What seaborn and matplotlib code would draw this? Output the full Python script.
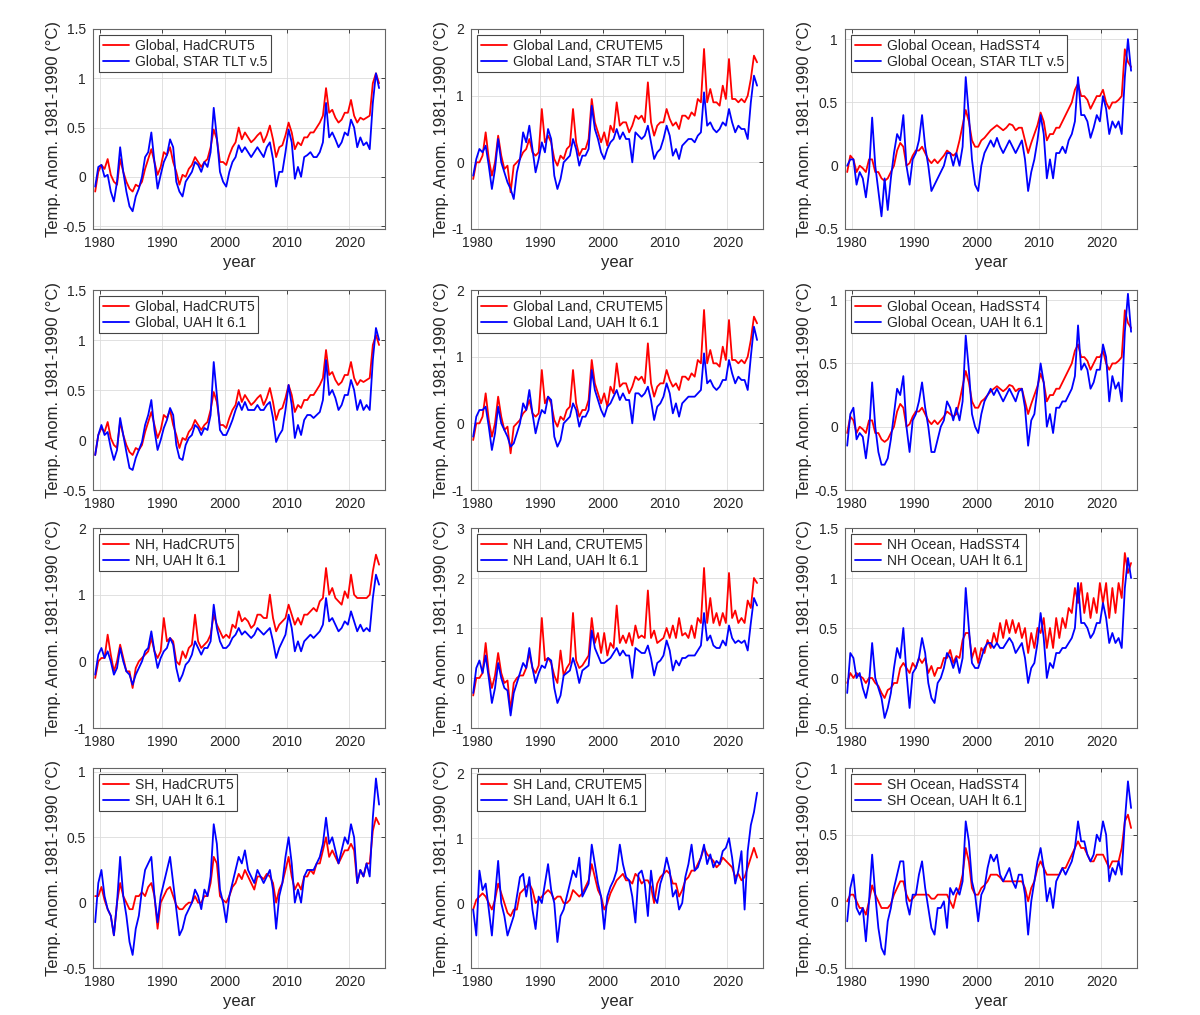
import numpy as np
import matplotlib
matplotlib.use("Agg")
import matplotlib.pyplot as plt
import seaborn as sns
from matplotlib.ticker import MultipleLocator, FuncFormatter

# Semi-annual samples.
# Anomalies relative to 1981-1990, deg C. Sample times: 1979.25, 1979.75, ... 2024.75
years = np.arange(1979.25, 2025.0, 0.5)

# --- surface records (red) ---
had_global = [
    -0.15, 0.05, 0.12, 0.08, 0.18, 0.02, -0.05, -0.08, 0.18, 0.05,
    -0.05, -0.12, -0.15, -0.08, -0.1, -0.05, 0.08, 0.18, 0.28, 0.15,
    0.02, 0.1, 0.25, 0.22, 0.3, 0.15, 0.05, -0.08, 0.02, 0.0,
    0.08, 0.12, 0.2, 0.15, 0.1, 0.15, 0.18, 0.3, 0.48, 0.38,
    0.15, 0.15, 0.12, 0.22, 0.3, 0.35, 0.5, 0.38, 0.45, 0.4,
    0.35, 0.38, 0.42, 0.45, 0.35, 0.42, 0.52, 0.38, 0.2, 0.3,
    0.32, 0.42, 0.55, 0.45, 0.28, 0.35, 0.32, 0.4, 0.4, 0.45,
    0.45, 0.5, 0.55, 0.62, 0.9, 0.65, 0.68, 0.6, 0.55, 0.58,
    0.65, 0.65, 0.78, 0.62, 0.55, 0.6, 0.58, 0.6, 0.62, 0.95,
    1.05, 0.95,
]
crutem_global = [
    -0.25, 0.0, 0.0, 0.1, 0.45, 0.05, -0.2, 0.0, 0.4, 0.1,
    -0.1, -0.05, -0.45, -0.05, 0.0, 0.05, 0.15, 0.2, 0.35, 0.15,
    0.1, 0.15, 0.8, 0.3, 0.4, 0.3, 0.05, -0.05, 0.1, 0.05,
    0.2, 0.25, 0.8, 0.3, 0.1, 0.2, 0.2, 0.35, 0.95, 0.6,
    0.45, 0.3, 0.45, 0.25, 0.55, 0.45, 0.9, 0.55, 0.6, 0.6,
    0.45, 0.55, 0.7, 0.65, 0.7, 0.6, 1.2, 0.6, 0.4, 0.55,
    0.6, 0.6, 0.8, 0.65, 0.55, 0.6, 0.5, 0.7, 0.7, 0.65,
    0.75, 0.7, 0.95, 0.9, 1.7, 0.9, 1.1, 0.9, 0.9, 0.85,
    1.15, 0.95, 1.55, 0.95, 0.95, 0.9, 0.95, 0.9, 1.0, 1.25,
    1.6, 1.5,
]
hadsst_global = [
    -0.05, 0.08, 0.05, -0.05, 0.0, -0.02, -0.05, 0.05, 0.05, -0.05,
    -0.05, -0.1, -0.12, -0.1, -0.05, 0.0, 0.12, 0.18, 0.15, 0.0,
    0.02, 0.08, 0.12, 0.12, 0.15, 0.1, 0.05, 0.02, 0.05, 0.02,
    0.05, 0.08, 0.12, 0.1, 0.08, 0.1, 0.2, 0.32, 0.44, 0.35,
    0.2, 0.15, 0.15, 0.2, 0.22, 0.25, 0.28, 0.3, 0.32, 0.3,
    0.28, 0.3, 0.33, 0.32, 0.28, 0.3, 0.3, 0.2, 0.1, 0.18,
    0.25, 0.32, 0.42, 0.35, 0.2, 0.25, 0.25, 0.3, 0.3, 0.35,
    0.4, 0.45, 0.5, 0.6, 0.65, 0.55, 0.55, 0.52, 0.45, 0.5,
    0.55, 0.55, 0.6, 0.5, 0.45, 0.5, 0.5, 0.52, 0.55, 0.92,
    0.82, 0.78,
]
had_nh = [
    -0.25, 0.0, 0.05, 0.05, 0.4, 0.1, -0.15, 0.0, 0.25, 0.05,
    -0.15, -0.15, -0.4, -0.1, 0.0, 0.05, 0.1, 0.15, 0.35, 0.15,
    0.05, 0.15, 0.65, 0.3, 0.35, 0.3, 0.0, -0.05, 0.15, 0.05,
    0.2, 0.25, 0.7, 0.3, 0.2, 0.25, 0.3, 0.4, 0.7, 0.55,
    0.45, 0.35, 0.4, 0.35, 0.55, 0.5, 0.75, 0.6, 0.65, 0.6,
    0.5, 0.55, 0.7, 0.7, 0.65, 0.65, 1.0, 0.65, 0.45, 0.55,
    0.6, 0.65, 0.85, 0.7, 0.55, 0.65, 0.55, 0.7, 0.7, 0.75,
    0.8, 0.75, 0.9, 0.95, 1.4, 1.0, 1.1, 0.95, 0.9, 0.85,
    1.05, 0.95, 1.3, 1.0, 0.95, 0.95, 0.95, 0.95, 1.0, 1.35,
    1.6, 1.45,
]
crutem_nh = [
    -0.35, 0.0, 0.0, 0.1, 0.7, 0.1, -0.2, 0.05, 0.5, 0.1,
    -0.1, -0.05, -0.65, -0.1, 0.0, 0.05, 0.05, 0.2, 0.5, 0.2,
    0.1, 0.25, 1.2, 0.35, 0.4, 0.3, 0.05, -0.1, 0.55, 0.05,
    0.2, 0.3, 1.3, 0.35, 0.2, 0.25, 0.35, 0.45, 1.2, 0.7,
    0.9, 0.5, 0.9, 0.45, 0.7, 0.6, 1.45, 0.7, 0.85, 0.7,
    0.9, 0.65, 1.05, 0.8, 0.85, 0.8, 1.75, 0.8, 0.95, 0.7,
    0.75, 0.8, 1.0, 0.8, 1.05, 0.8, 1.2, 0.85, 0.9, 0.8,
    1.05, 0.8, 1.2, 1.1, 2.2, 1.1, 1.6, 1.1, 1.3, 1.05,
    1.3, 1.1, 2.1, 1.2, 1.35, 1.1, 1.2, 1.1, 1.55, 1.4,
    2.0, 1.9,
]
hadsst_nh = [
    -0.05, 0.05, 0.0, 0.05, 0.02, 0.0, -0.05, 0.0, 0.0, -0.05,
    -0.08, -0.15, -0.2, -0.12, -0.1, -0.05, -0.05, 0.1, 0.15, 0.1,
    0.05, 0.15, 0.1, 0.2, 0.15, 0.2, 0.05, 0.12, 0.02, 0.1,
    0.1, 0.2, 0.2, 0.28, 0.15, 0.22, 0.2, 0.38, 0.45, 0.45,
    0.2, 0.3, 0.15, 0.3, 0.25, 0.38, 0.3, 0.45, 0.35, 0.55,
    0.4, 0.58, 0.45, 0.58, 0.45, 0.55, 0.4, 0.5, 0.25, 0.45,
    0.3, 0.5, 0.45, 0.6, 0.3, 0.5, 0.3, 0.6, 0.4, 0.6,
    0.5, 0.7, 0.65, 0.9, 0.75, 0.95, 0.65, 0.85, 0.6, 0.8,
    0.65, 0.95, 0.75, 0.95, 0.6, 0.9, 0.65, 0.95, 0.8, 1.25,
    1.05, 1.15,
]
had_sh = [
    0.05, 0.05, 0.12, 0.02, -0.05, -0.1, -0.25, 0.0, 0.15, 0.05,
    0.0, -0.05, -0.05, 0.05, 0.05, 0.08, 0.05, 0.12, 0.15, 0.05,
    -0.2, 0.0, 0.05, 0.1, 0.12, 0.05, -0.02, -0.05, -0.05, -0.02,
    0.0, 0.0, 0.05, 0.0, 0.0, 0.05, 0.05, 0.15, 0.35, 0.3,
    0.05, 0.02, 0.0, 0.05, 0.12, 0.15, 0.22, 0.18, 0.25, 0.2,
    0.15, 0.1, 0.2, 0.2, 0.18, 0.22, 0.2, 0.15, 0.0, 0.1,
    0.15, 0.25, 0.35, 0.2, 0.1, 0.15, 0.1, 0.2, 0.2, 0.25,
    0.22, 0.3, 0.3, 0.4, 0.5, 0.35, 0.4, 0.35, 0.3, 0.35,
    0.4, 0.4, 0.45, 0.4, 0.15, 0.25, 0.2, 0.3, 0.3, 0.55,
    0.65, 0.6,
]
crutem_sh = [
    -0.1, 0.05, 0.1, 0.15, 0.1, 0.0, -0.1, 0.05, 0.3, 0.15,
    0.0, -0.15, -0.2, -0.1, -0.1, 0.15, 0.2, 0.25, 0.3, 0.2,
    0.0, 0.05, 0.1, 0.15, 0.2, 0.15, 0.05, 0.1, 0.1, 0.0,
    0.0, 0.05, 0.2, 0.15, 0.1, 0.15, 0.25, 0.35, 0.6, 0.4,
    0.2, 0.1, -0.1, 0.0, 0.15, 0.25, 0.35, 0.4, 0.45, 0.35,
    0.35, 0.3, 0.45, 0.4, 0.3, 0.35, 0.35, 0.25, 0.0, 0.3,
    0.4, 0.45, 0.5, 0.45, 0.3, 0.3, 0.1, 0.2, 0.35, 0.4,
    0.5, 0.5, 0.6, 0.7, 0.85, 0.75, 0.7, 0.65, 0.55, 0.6,
    0.7, 0.65, 0.6, 0.55, 0.4, 0.45, 0.35, 0.4, 0.55, 0.7,
    0.85, 0.7,
]
hadsst_sh = [
    0.0, 0.05, 0.05, 0.0, -0.05, -0.05, -0.1, 0.0, 0.12, 0.05,
    0.0, -0.05, -0.05, -0.05, -0.02, 0.05, 0.1, 0.15, 0.15, 0.05,
    0.0, 0.02, 0.05, 0.05, 0.05, 0.05, 0.05, 0.02, 0.02, 0.05,
    0.05, 0.05, 0.05, 0.0, -0.05, 0.05, 0.1, 0.2, 0.4, 0.3,
    0.1, 0.05, 0.05, 0.1, 0.12, 0.15, 0.2, 0.2, 0.2, 0.18,
    0.15, 0.15, 0.15, 0.15, 0.15, 0.15, 0.15, 0.1, 0.0, 0.1,
    0.15, 0.25, 0.3, 0.25, 0.2, 0.2, 0.2, 0.2, 0.2, 0.25,
    0.25, 0.3, 0.35, 0.4, 0.45, 0.4, 0.4, 0.35, 0.3, 0.3,
    0.35, 0.35, 0.35, 0.3, 0.25, 0.3, 0.3, 0.3, 0.4, 0.6,
    0.65, 0.55,
]

# --- satellite lower troposphere (blue) ---
star_global = [
    -0.1, 0.1, 0.12, 0.0, 0.02, -0.15, -0.25, -0.05, 0.3, 0.05,
    -0.15, -0.3, -0.35, -0.2, -0.12, 0.0, 0.2, 0.25, 0.45, 0.15,
    -0.12, 0.02, 0.15, 0.22, 0.38, 0.3, -0.05, -0.15, -0.2, -0.05,
    0.0, 0.05, 0.15, 0.12, 0.05, 0.15, 0.1, 0.25, 0.7, 0.4,
    0.05, -0.05, -0.1, 0.05, 0.15, 0.2, 0.32, 0.25, 0.3, 0.25,
    0.2, 0.25, 0.3, 0.25, 0.2, 0.3, 0.35, 0.18, -0.1, 0.05,
    0.05, 0.25, 0.48, 0.35, -0.02, 0.1, 0.0, 0.2, 0.22, 0.25,
    0.2, 0.2, 0.25, 0.35, 0.75, 0.4, 0.45, 0.38, 0.3, 0.35,
    0.45, 0.42, 0.58, 0.5, 0.3, 0.4, 0.32, 0.35, 0.28, 0.75,
    1.05, 0.9,
]
star_land = [
    -0.2, 0.05, 0.2, 0.15, 0.25, -0.05, -0.4, -0.1, 0.35, 0.0,
    -0.15, -0.3, -0.4, -0.55, -0.15, 0.05, 0.45, 0.3, 0.55, 0.2,
    -0.15, 0.05, 0.3, 0.15, 0.5, 0.35, -0.2, -0.4, -0.25, 0.0,
    0.05, 0.1, 0.35, 0.2, -0.05, 0.1, 0.1, 0.2, 0.85, 0.5,
    0.35, 0.15, 0.05, 0.2, 0.3, 0.35, 0.5, 0.35, 0.45, 0.35,
    0.35, 0.0, 0.45, 0.4, 0.35, 0.4, 0.55, 0.3, 0.05, 0.15,
    0.2, 0.35, 0.55, 0.4, 0.1, 0.2, 0.05, 0.25, 0.3, 0.35,
    0.35, 0.3, 0.4, 0.45, 1.05, 0.55, 0.6, 0.5, 0.45, 0.5,
    0.6, 0.55, 0.8, 0.6, 0.45, 0.55, 0.5, 0.5, 0.35, 0.9,
    1.3, 1.15,
]
star_ocean = [
    0.0, 0.05, 0.05, -0.15, -0.05, -0.1, -0.25, -0.05, 0.38, 0.0,
    -0.2, -0.4, -0.1, -0.35, -0.1, 0.1, 0.25, 0.2, 0.4, 0.0,
    -0.15, 0.05, 0.1, 0.2, 0.4, 0.15, 0.0, -0.2, -0.15, -0.1,
    -0.05, 0.0, 0.1, 0.1, 0.0, 0.1, 0.0, 0.15, 0.7, 0.4,
    0.05, -0.15, -0.2, 0.0, 0.1, 0.15, 0.2, 0.15, 0.22, 0.15,
    0.1, 0.15, 0.2, 0.15, 0.1, 0.15, 0.2, 0.05, -0.2, -0.05,
    0.05, 0.2, 0.4, 0.25, -0.1, 0.05, -0.1, 0.1, 0.1, 0.15,
    0.1, 0.2, 0.25, 0.35, 0.7, 0.4, 0.4, 0.35, 0.22, 0.3,
    0.4, 0.35, 0.55, 0.45, 0.25, 0.35, 0.3, 0.35, 0.25, 0.7,
    1.0, 0.75,
]
uah_global = [
    -0.15, 0.05, 0.15, 0.05, 0.08, -0.08, -0.2, -0.1, 0.22, 0.05,
    -0.12, -0.28, -0.3, -0.18, -0.1, -0.02, 0.15, 0.25, 0.4, 0.1,
    -0.1, 0.0, 0.12, 0.2, 0.32, 0.25, -0.05, -0.18, -0.2, -0.05,
    0.02, 0.05, 0.15, 0.12, 0.05, 0.12, 0.1, 0.25, 0.78, 0.45,
    0.1, 0.05, 0.05, 0.12, 0.2, 0.3, 0.38, 0.3, 0.38, 0.3,
    0.3, 0.3, 0.35, 0.3, 0.3, 0.35, 0.38, 0.22, -0.02, 0.05,
    0.1, 0.3, 0.55, 0.35, 0.02, 0.15, 0.05, 0.2, 0.25, 0.25,
    0.22, 0.25, 0.28, 0.4, 0.8, 0.45, 0.5, 0.42, 0.3, 0.35,
    0.45, 0.45, 0.6, 0.5, 0.3, 0.4, 0.3, 0.35, 0.3, 0.8,
    1.12, 1.0,
]
uah_land = [
    -0.2, 0.1, 0.2, 0.2, 0.25, -0.05, -0.4, -0.15, 0.25, 0.0,
    -0.1, -0.2, -0.35, -0.3, -0.15, 0.0, 0.3, 0.2, 0.5, 0.15,
    -0.15, 0.05, 0.2, 0.15, 0.4, 0.35, -0.2, -0.35, -0.25, 0.0,
    0.05, 0.1, 0.3, 0.2, -0.05, 0.1, 0.1, 0.2, 0.8, 0.5,
    0.35, 0.2, 0.1, 0.25, 0.3, 0.4, 0.5, 0.35, 0.45, 0.35,
    0.35, 0.0, 0.45, 0.45, 0.4, 0.45, 0.55, 0.35, 0.05, 0.25,
    0.3, 0.4, 0.6, 0.45, 0.15, 0.3, 0.1, 0.3, 0.35, 0.4,
    0.4, 0.4, 0.45, 0.5, 1.05, 0.6, 0.65, 0.55, 0.5, 0.55,
    0.65, 0.65, 0.95, 0.75, 0.6, 0.7, 0.65, 0.65, 0.5, 1.0,
    1.45, 1.25,
]
uah_ocean = [
    -0.15, 0.1, 0.15, -0.1, -0.05, -0.08, -0.25, -0.05, 0.35, 0.0,
    -0.2, -0.3, -0.3, -0.25, -0.1, 0.1, 0.3, 0.25, 0.4, 0.0,
    -0.2, 0.05, 0.1, 0.2, 0.35, 0.15, 0.0, -0.2, -0.2, -0.1,
    0.0, 0.05, 0.2, 0.15, 0.05, 0.15, 0.05, 0.2, 0.72, 0.45,
    0.1, 0.0, -0.05, 0.1, 0.2, 0.25, 0.3, 0.25, 0.3, 0.25,
    0.2, 0.25, 0.3, 0.25, 0.2, 0.28, 0.3, 0.15, -0.15, 0.05,
    0.1, 0.3, 0.5, 0.35, 0.0, 0.1, -0.05, 0.15, 0.15, 0.2,
    0.2, 0.25, 0.3, 0.4, 0.8, 0.45, 0.5, 0.45, 0.3, 0.35,
    0.45, 0.45, 0.65, 0.55, 0.2, 0.4, 0.3, 0.35, 0.2, 0.75,
    1.05, 0.75,
]
uah_nh = [
    -0.2, 0.1, 0.2, 0.05, 0.15, 0.0, -0.2, -0.1, 0.2, 0.0,
    -0.15, -0.2, -0.35, -0.2, -0.1, 0.0, 0.15, 0.2, 0.45, 0.15,
    -0.1, 0.05, 0.15, 0.2, 0.35, 0.25, -0.1, -0.3, -0.2, -0.05,
    0.0, 0.1, 0.3, 0.2, 0.1, 0.2, 0.2, 0.3, 0.85, 0.5,
    0.3, 0.2, 0.2, 0.25, 0.35, 0.4, 0.5, 0.4, 0.45, 0.4,
    0.35, 0.4, 0.5, 0.45, 0.4, 0.45, 0.5, 0.3, 0.05, 0.2,
    0.3, 0.4, 0.7, 0.5, 0.15, 0.3, 0.15, 0.3, 0.35, 0.4,
    0.35, 0.4, 0.45, 0.55, 0.95, 0.6, 0.65, 0.55, 0.45, 0.5,
    0.6, 0.55, 0.75, 0.6, 0.45, 0.55, 0.45, 0.5, 0.45, 0.95,
    1.3, 1.15,
]
uah_nh_land = [
    -0.3, 0.2, 0.35, 0.1, 0.45, 0.0, -0.5, -0.2, 0.3, 0.0,
    -0.2, -0.25, -0.75, -0.3, -0.1, 0.1, 0.3, 0.2, 0.6, 0.2,
    -0.1, 0.1, 0.25, 0.2, 0.4, 0.35, -0.2, -0.5, -0.35, 0.05,
    0.1, 0.15, 0.4, 0.2, -0.1, 0.15, 0.2, 0.25, 0.95, 0.6,
    0.45, 0.3, 0.3, 0.35, 0.4, 0.5, 0.6, 0.45, 0.55, 0.45,
    0.45, 0.0, 0.6, 0.55, 0.5, 0.5, 0.65, 0.4, 0.05, 0.3,
    0.35, 0.45, 0.75, 0.55, 0.15, 0.35, 0.25, 0.4, 0.4, 0.45,
    0.45, 0.45, 0.55, 0.65, 1.3, 0.75, 0.85, 0.65, 0.6, 0.6,
    0.75, 0.65, 1.05, 0.8, 0.7, 0.75, 0.7, 0.75, 0.55, 1.1,
    1.6, 1.45,
]
uah_nh_ocean = [
    -0.15, 0.25, 0.2, 0.0, 0.05, -0.1, -0.2, -0.05, 0.35, 0.0,
    -0.1, -0.2, -0.4, -0.3, -0.15, 0.1, 0.3, 0.2, 0.5, 0.05,
    -0.3, 0.05, 0.1, 0.2, 0.4, 0.25, -0.05, -0.2, -0.25, -0.05,
    0.0, 0.1, 0.25, 0.2, 0.1, 0.2, 0.05, 0.2, 0.9, 0.5,
    0.15, 0.1, 0.1, 0.2, 0.3, 0.35, 0.35, 0.3, 0.35, 0.3,
    0.3, 0.35, 0.4, 0.35, 0.25, 0.3, 0.35, 0.2, -0.05, 0.1,
    0.15, 0.35, 0.65, 0.4, 0.0, 0.15, 0.1, 0.25, 0.25, 0.3,
    0.3, 0.35, 0.4, 0.5, 0.95, 0.55, 0.55, 0.5, 0.4, 0.45,
    0.55, 0.55, 0.75, 0.6, 0.35, 0.45, 0.35, 0.4, 0.3, 0.9,
    1.2, 1.0,
]
uah_sh = [
    -0.15, 0.15, 0.25, 0.05, -0.05, -0.1, -0.25, 0.0, 0.35, 0.05,
    -0.1, -0.3, -0.4, -0.2, -0.1, 0.1, 0.25, 0.3, 0.35, 0.05,
    -0.15, 0.05, 0.15, 0.25, 0.35, 0.15, -0.05, -0.25, -0.2, -0.1,
    -0.05, 0.0, 0.1, 0.05, -0.05, 0.1, 0.05, 0.2, 0.6, 0.45,
    0.1, 0.0, -0.15, 0.05, 0.15, 0.25, 0.35, 0.3, 0.4, 0.25,
    0.2, 0.15, 0.25, 0.2, 0.15, 0.2, 0.25, 0.1, -0.2, 0.05,
    0.15, 0.35, 0.5, 0.3, 0.0, 0.1, 0.0, 0.2, 0.25, 0.25,
    0.25, 0.3, 0.35, 0.45, 0.65, 0.45, 0.5, 0.4, 0.3, 0.4,
    0.5, 0.45, 0.6, 0.5, 0.15, 0.25, 0.2, 0.3, 0.2, 0.65,
    0.95, 0.75,
]
uah_sh_land = [
    -0.1, -0.5, 0.5, 0.2, 0.3, -0.1, -0.5, 0.1, 0.65, 0.0,
    -0.2, -0.5, -0.35, -0.2, 0.1, 0.4, 0.45, 0.1, 0.4, -0.1,
    -0.4, 0.1, 0.0, 0.3, 0.6, 0.2, 0.0, -0.6, -0.2, -0.1,
    0.1, 0.3, 0.5, 0.4, 0.7, 0.1, 0.2, 0.3, 0.9, 0.6,
    0.3, 0.1, -0.4, 0.1, 0.25, 0.35, 0.5, 0.9, 0.6, 0.4,
    0.35, 0.1, -0.3, 0.45, 0.5, 0.3, -0.2, 0.5, 0.1, 0.0,
    0.3, 0.45, 0.7, 0.5, 0.1, 0.2, -0.1, 0.0, 0.4, 0.6,
    0.9, 0.5, 0.55, 0.7, 0.9, 0.6, 0.75, 0.55, 0.65, 0.6,
    0.8, 0.85, 1.0, 0.7, 0.3, 0.5, 0.8, -0.1, 0.8, 1.2,
    1.4, 1.7,
]
uah_sh_ocean = [
    -0.15, 0.1, 0.2, -0.05, -0.1, -0.05, -0.3, 0.0, 0.35, 0.05,
    -0.2, -0.35, -0.4, -0.15, -0.05, 0.1, 0.2, 0.3, 0.3, 0.0,
    -0.1, 0.05, 0.05, 0.2, 0.3, 0.1, -0.05, -0.2, -0.25, -0.05,
    -0.05, 0.0, -0.2, 0.1, 0.05, 0.1, 0.05, 0.15, 0.6, 0.45,
    0.15, 0.05, -0.15, 0.05, 0.1, 0.25, 0.35, 0.3, 0.35, 0.2,
    0.15, 0.2, 0.25, 0.15, 0.1, 0.2, 0.2, 0.05, -0.25, 0.0,
    0.15, 0.3, 0.4, 0.25, 0.0, 0.1, -0.05, 0.15, 0.2, 0.25,
    0.2, 0.25, 0.3, 0.4, 0.6, 0.45, 0.45, 0.35, 0.3, 0.35,
    0.5, 0.45, 0.6, 0.5, 0.15, 0.25, 0.2, 0.3, 0.2, 0.6,
    0.9, 0.7,
]

ylabel = "Temp. Anom. 1981-1990 (\u00b0C)"

# row, col, red series, red label, blue series, blue label, y-limits, y tick step
panels = [
    (0, 0, had_global, "Global, HadCRUT5", star_global, "Global, STAR TLT v.5", (-0.53, 1.5), 0.5),
    (0, 1, crutem_global, "Global Land, CRUTEM5", star_land, "Global Land, STAR TLT v.5", (-1, 2), 1),
    (0, 2, hadsst_global, "Global Ocean, HadSST4", star_ocean, "Global Ocean, STAR TLT v.5", (-0.5, 1.08), 0.5),
    (1, 0, had_global, "Global, HadCRUT5", uah_global, "Global, UAH lt 6.1", (-0.5, 1.5), 0.5),
    (1, 1, crutem_global, "Global Land, CRUTEM5", uah_land, "Global Land, UAH lt 6.1", (-1, 2), 1),
    (1, 2, hadsst_global, "Global Ocean, HadSST4", uah_ocean, "Global Ocean, UAH lt 6.1", (-0.5, 1.08), 0.5),
    (2, 0, had_nh, "NH, HadCRUT5", uah_nh, "NH, UAH lt 6.1", (-1, 2), 1),
    (2, 1, crutem_nh, "NH Land, CRUTEM5", uah_nh_land, "NH Land, UAH lt 6.1", (-1, 3), 1),
    (2, 2, hadsst_nh, "NH Ocean, HadSST4", uah_nh_ocean, "NH Ocean, UAH lt 6.1", (-0.5, 1.5), 0.5),
    (3, 0, had_sh, "SH, HadCRUT5", uah_sh, "SH, UAH lt 6.1", (-0.5, 1.03), 0.5),
    (3, 1, crutem_sh, "SH Land, CRUTEM5", uah_sh_land, "SH Land, UAH lt 6.1", (-1, 2.08), 1),
    (3, 2, hadsst_sh, "SH Ocean, HadSST4", uah_sh_ocean, "SH Ocean, UAH lt 6.1", (-0.5, 1.0), 0.5),
]

sns.set_style("white")
plt.rcParams["font.family"] = ["Liberation Sans", "DejaVu Sans"]
plt.rcParams["axes.unicode_minus"] = False

W, H = 1200, 1015
fig = plt.figure(figsize=(W / 100, H / 100), dpi=100)

col_left = [93, 471, 845]
row_top = [29, 290, 528, 768]
aw, ah = 292, 200
ylab_x = [-0.11, -0.075, -0.113]

for row, col, red, red_lab, blue, blue_lab, ylim, step in panels:
    assert len(red) == len(years) and len(blue) == len(years)
    ax = fig.add_axes([col_left[col] / W, 1 - (row_top[row] + ah) / H, aw / W, ah / H])
    sns.lineplot(x=years, y=red, color="#ff0000", lw=1.3, label=red_lab, ax=ax)
    sns.lineplot(x=years, y=blue, color="#0000ff", lw=1.3, label=blue_lab, ax=ax)

    ax.set_xlim(1978.9, 2025.7)
    ax.set_ylim(*ylim)
    ax.xaxis.set_major_locator(MultipleLocator(10))
    ax.yaxis.set_major_locator(MultipleLocator(step))
    ax.yaxis.set_major_formatter(FuncFormatter(lambda v, pos: f"{v:g}"))
    ax.grid(True, color="#dcdcdc", lw=0.6)
    ax.tick_params(direction="in", length=3, width=0.6, top=True, right=True,
                   labelsize=10, pad=5, colors="#262626")
    for sp in ax.spines.values():
        sp.set_color("#666666")
        sp.set_linewidth(0.8)

    ax.set_ylabel(ylabel, fontsize=12, color="#262626")
    ax.yaxis.set_label_coords(ylab_x[col], 0.5)
    if row in (0, 3):
        ax.set_xlabel("year", fontsize=12, color="#262626")
        ax.xaxis.set_label_coords(0.5, -0.13)
    else:
        ax.set_xlabel("")

    leg = ax.legend(loc="upper left", fontsize=10, frameon=True, fancybox=False,
                    edgecolor="#444444", framealpha=1, handlelength=1.9,
                    handletextpad=0.4, borderpad=0.25, labelspacing=0.15,
                    borderaxespad=0.45)
    leg.get_frame().set_linewidth(0.8)

fig.savefig("out.png", dpi=100)
